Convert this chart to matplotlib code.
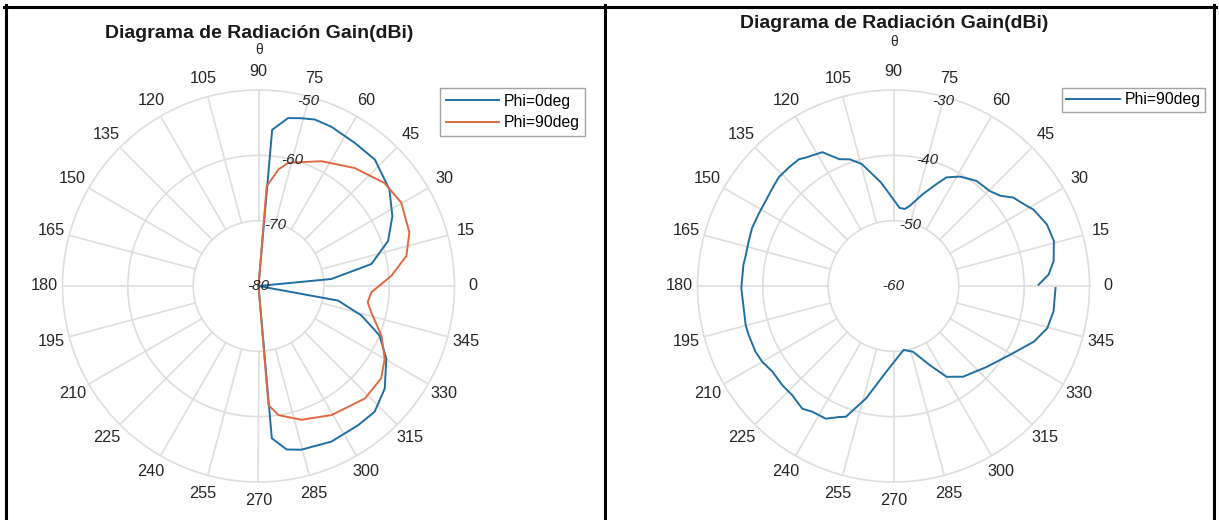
import numpy as np
import matplotlib
matplotlib.use("Agg")
import matplotlib.pyplot as plt
from matplotlib.lines import Line2D

plt.rcParams['font.family'] = ['Liberation Sans', 'DejaVu Sans']

# ---- Simulated patterns (dBi), theta in degrees ----
theta_phi0 = [-90, -85, -80.2, -75.3, -64.9, -54.4, -47.3, -39.1, -29.6, -22.2,
              -16, -10.4, 0, 5.5, 11, 19.2, 27.5, 36.4, 47.4, 56, 65.4, 71.3,
              75.7, 80, 85, 90]
gain_phi0 = [-80, -56.6, -54.6, -54.1, -53.7, -53.8, -53.8, -55.1, -57.5, -60.0,
             -63.6, -67.6, -80, -68.8, -62.4, -59.0, -56.9, -55.1, -53.7, -53.6,
             -53.2, -53.1, -53.5, -53.9, -56.0, -80]

theta_phi90 = [-90, -85.2, -81.2, -72.2, -60.5, -46.6, -37, -30, -22, -13.1,
               -8.4, -3.2, 4.4, 11.5, 19.5, 30.3, 39.3, 50.8, 63.2, 76.4, 80.3,
               85.3, 90]
gain_phi90 = [-80, -61.7, -60.0, -58.5, -57.3, -56.3, -56.5, -57.7, -59.7, -62.3,
              -63.1, -62.7, -59.6, -56.9, -55.5, -54.7, -55.1, -56.7, -58.6, -60.6,
              -61.9, -64.7, -80]

# ---- Measured pattern, Phi = 90 deg ----
theta_meas = [0.5, 4.2, 8.8, 15.7, 21.9, 28.7, 31, 36.4, 40.2, 44.6, 51.7, 58.7,
              64, 67.2, 72.2, 78.6, 81.8, 85.6, 92.5, 97, 104.6, 109, 113.1, 118,
              124.3, 126.7, 131.4, 136.5, 141.4, 146.4, 152, 157.6, 162.8, 169.2,
              171.9, 180.8, 189.6, 194.7, 198.7, 205.4, 210, 215.2, 221.7, 227.2,
              233.4, 237.2, 243, 247.5, 250, 256.3, 265.1, 279, 286.5, 294.6,
              300.3, 307.5, 319.1, 329.4, 338.3, 344.6, 351, 359.3]
gain_meas = [-37.8, -36.2, -35.2, -34.5, -34.7, -35.6, -36.2, -37.2, -38.6, -39.3,
             -39.5, -40.4, -41.5, -43.1, -45.2, -47.5, -48.1, -48.0, -45.9, -44.0,
             -40.7, -39.5, -38.9, -36.8,
             -36.2, -35.8, -35.8, -35.8, -36.2, -36.5, -36.6, -36.6, -36.8, -36.9,
             -36.8, -36.7, -36.8, -36.6, -36.6, -36.6, -36.8, -37.3, -37.2, -37.2,
             -36.6, -37.1, -37.2, -38.3, -38.7, -42.3, -46.8, -50.1, -49.5, -46.7,
             -43.9, -42.5, -41.1, -39.3, -36.9, -35.6, -35.2, -35.2]

theta_ticks = list(range(0, 360, 15))
left_rticks = [-80, -70, -60, -50]
right_rticks = [-60, -50, -40, -30]

title_text = "Diagrama de Radiación Gain(dBi)"
theta_label = "θ"

BLUE = '#1f6fa3'
ORANGE = '#dd6a42'
GRID = '#dedede'
TXT = '#262626'

W, H = 1219, 520
fig = plt.figure(figsize=(W / 100, H / 100), dpi=100)
R = 196


def rect_px(cx, cy, r):
    return [(cx - r) / W, (H - cy - r) / H, 2 * r / W, 2 * r / H]


def polar_panel(cx, cy, rticks):
    ax = fig.add_axes(rect_px(cx, cy, R), projection='polar')
    ax.grid(False)
    ax.set_xticks(np.deg2rad(theta_ticks))
    ax.set_xticklabels([str(t) for t in theta_ticks], fontsize=11.7, color=TXT)
    ax.tick_params(axis='x', pad=6.4, length=0)
    ax.set_yticks([])
    ax.spines['polar'].set_color(GRID)
    ax.spines['polar'].set_linewidth(1.2)
    t = np.linspace(0, 2 * np.pi, 721)
    for r in rticks[1:-1]:
        ax.plot(t, np.full_like(t, r), color=GRID, lw=1.2, zorder=0)
    for a in theta_ticks:
        ax.plot([np.deg2rad(a)] * 2, [rticks[1], rticks[-1]], color=GRID,
                lw=1.2, zorder=0)
    for i, r in enumerate(rticks):
        off = [0, 0.3, 0.0, 0.7][i]
        ax.text(np.deg2rad(75), r - off, str(r), fontsize=11, style='italic',
                color=TXT, ha='center', va='center', zorder=3)
    ax.set_ylim(rticks[0], rticks[-1])
    ax.autoscale(False)
    return ax


legend_style = dict(loc='upper left', bbox_transform=fig.transFigure, frameon=True,
                    fancybox=False, edgecolor='#8c8c8c', fontsize=11.3,
                    handlelength=3.4, borderpad=0.36, labelspacing=0.42,
                    handletextpad=0.3, borderaxespad=0)

# Left panel: simulated patterns
axl = polar_panel(258.5, 286, left_rticks)
l1, = axl.plot(np.deg2rad(theta_phi0), gain_phi0, color=BLUE, lw=1.4,
               label='Phi=0deg', zorder=2)
l2, = axl.plot(np.deg2rad(theta_phi90), gain_phi90, color=ORANGE, lw=1.4,
               label='Phi=90deg', zorder=2)
axl.set_ylim(left_rticks[0], left_rticks[-1])
lg = axl.legend(handles=[l1, l2], bbox_to_anchor=(440 / W, 1 - 88 / H), **legend_style)
lg.get_frame().set_linewidth(1.0)

# Right panel: measured pattern
axr = polar_panel(893.5, 286, right_rticks)
l3, = axr.plot(np.deg2rad(theta_meas), gain_meas, color=BLUE, lw=1.4,
               label='Phi=90deg', zorder=2)
axr.set_ylim(right_rticks[0], right_rticks[-1])
lg = axr.legend(handles=[l3], bbox_to_anchor=(1062 / W, 1 - 88 / H),
                **dict(legend_style, borderpad=0.28))
lg.get_frame().set_linewidth(1.0)

# Titles and theta axis captions
fig.text(259 / W, 1 - 38 / H, title_text, ha='center', va='baseline',
         fontsize=14, fontweight='bold', color='#1a1a1a')
fig.text(894.5 / W, 1 - 28.5 / H, title_text, ha='center', va='baseline',
         fontsize=14, fontweight='bold', color='#1a1a1a')
fig.text(259 / W, 1 - 53.5 / H, theta_label, ha='center', va='baseline',
         fontsize=10, color=TXT)
fig.text(894 / W, 1 - 46.5 / H, theta_label, ha='center', va='baseline',
         fontsize=10, color=TXT)

# Panel frames
frame = dict(transform=fig.transFigure, color='black', lw=2.2)
fig.add_artist(Line2D([4 / W, 1216 / W], [1 - 6.5 / H] * 2, **frame))
for x in (6, 605, 1214):
    fig.add_artist(Line2D([x / W] * 2, [1 - 5 / H, 0], **frame))

fig.savefig('out.png', dpi=100, facecolor='white')
